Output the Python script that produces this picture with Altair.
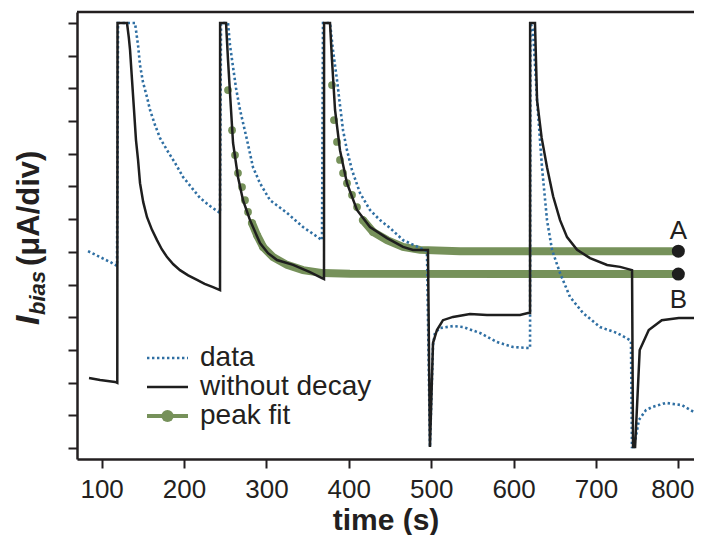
import altair as alt
import pandas as pd

# ---------------- data ----------------
# "data" series (blue dotted)
data_t = [83.5, 98.1, 110.2, 118.7, 119.9, 140.5, 144.2, 146.6, 150.2, 155.1, 158.7, 164.8,
          170.9, 179.4, 189.1, 198.8, 209.7, 219.4, 231.6, 243.7, 244.9, 253.4, 255.8, 258.3,
          263.1, 268.0, 276.5, 283.7, 292.2, 304.4, 325.0, 344.4, 367.5, 368.7, 377.2, 380.8,
          385.7, 389.3, 393.0, 397.8, 403.9, 413.6, 425.7, 437.9, 450.0, 465.8, 486.4, 494.9,
          498.5, 502.2, 504.6, 510.7, 526.5, 538.6, 559.2, 579.9, 599.3, 616.3, 620.0, 620.5,
          623.6, 628.5, 634.5, 640.6, 646.7, 656.4, 668.5, 684.3, 704.9, 725.5, 741.3, 742.5,
          743.7, 746.1, 752.2, 760.7, 768.0, 785.0, 804.4, 819.0]
data_v = [6.02, 5.84, 5.69, 5.57, 13.0, 13.0, 12.32, 11.71, 11.19, 10.73, 10.34, 9.88,
          9.48, 9.11, 8.72, 8.29, 7.95, 7.65, 7.40, 7.19, 13.0, 13.0, 12.32, 11.87,
          11.01, 10.34, 9.42, 8.59, 8.10, 7.58, 7.19, 6.76, 6.36, 13.0, 13.0, 12.17,
          11.25, 10.49, 9.72, 9.11, 8.50, 7.80, 7.28, 6.97, 6.73, 6.36, 6.12, 6.02,
          0.03, 3.15, 3.52, 3.67, 3.73, 3.70, 3.52, 3.24, 3.09, 3.06, 3.06, 13.0,
          12.78, 10.64, 8.59, 6.97, 6.06, 5.35, 4.62, 4.13, 3.70, 3.52, 3.30, 3.27,
          0.03, 0.03, 0.86, 1.16, 1.25, 1.38, 1.31, 1.10]

# "without decay" series (black solid)
nodecay_t = [84.7, 98.1, 116.3, 119.0, 119.3, 130.8, 133.0, 134.5, 136.9, 139.3, 141.7, 144.2,
             146.6, 150.5, 155.1, 161.0, 167.2, 173.0, 179.4, 187.0, 195.1, 205.0, 215.8, 225.0,
             235.2, 243.7, 243.8, 251.0, 253.4, 255.8, 259.5, 265.5, 271.6, 280.1, 292.2, 302.0,
             312.9, 332.3, 352.9, 367.5, 369.9, 370.0, 377.2, 379.6, 383.3, 389.3, 397.8, 409.9,
             425.7, 446.4, 465.8, 477.9, 494.9, 496.1, 498.5, 502.2, 507.0, 514.3, 526.5, 547.1,
             567.7, 587.1, 607.8, 617.5, 620.0, 620.1, 626.0, 628.5, 634.0, 640.6, 648.0, 656.4,
             664.9, 677.1, 692.8, 713.5, 729.3, 743.8, 745.0, 747.5, 753.1, 764.1, 779.9, 800.5,
             822.3]
nodecay_v = [2.14, 2.08, 2.02, 1.99, 13.0, 13.0, 12.55, 12.17, 11.25, 10.34, 9.42, 8.81,
             8.10, 7.52, 7.06, 6.68, 6.36, 6.08, 5.84, 5.62, 5.44, 5.28, 5.14, 5.02,
             4.92, 4.83, 13.0, 13.0, 11.87, 10.86, 9.33, 8.29, 7.58, 6.97, 6.27, 5.96,
             5.75, 5.60, 5.38, 5.20, 5.17, 13.0, 13.0, 11.87, 10.34, 9.11, 8.10, 7.28,
             6.76, 6.42, 6.15, 6.06, 6.06, 6.06, 0.03, 3.21, 3.61, 3.91, 4.01, 4.10,
             4.07, 4.07, 4.07, 4.13, 4.13, 13.0, 13.0, 10.64, 9.50, 8.59, 7.70, 6.97,
             6.45, 6.06, 5.81, 5.60, 5.54, 5.44, 0.03, 0.03, 3.00, 3.61, 3.91, 3.98,
             3.98]

# "peak fit" B (first fit): sampled fit points and flat tail
fitB_t = [253.4, 258.3, 261.9, 265.5, 270.4, 274.0, 277.7, 282.5, 288.6, 295.9, 308.0, 325.0,
          344.4, 368.7, 401.5, 800.0]
fitB_v = [10.95, 9.72, 8.96, 8.41, 7.98, 7.58, 7.22, 6.88, 6.51, 6.15, 5.84, 5.60,
          5.44, 5.35, 5.33, 5.32]
# "peak fit" A (second fit)
fitA_t = [379.6, 382.0, 385.7, 389.3, 393.0, 397.8, 403.9, 410.0, 417.2, 429.4, 446.4, 465.8,
          486.4, 535.0, 800.0]
fitA_v = [11.10, 10.03, 9.36, 8.81, 8.41, 8.10, 7.74, 7.37, 6.97, 6.61, 6.36, 6.15,
          6.06, 6.02, 6.02]

end_labels = ["A", "B"]
end_t = [800, 800]
end_v = [6.02, 5.32]

x_ticks = [100, 200, 300, 400, 500, 600, 700, 800]
y_ticks = list(range(14))
legend_labels = ["data", "without decay", "peak fit"]

# ---------------- styling ----------------
BLUE = "#2f6fa3"
GREEN = "#76915a"
BLACK = "#1e1e1e"
AX = "#231f20"
FONT = "Liberation Sans"
W, H = 617, 447

df_data = pd.DataFrame({"t": data_t, "v": data_v, "i": range(len(data_t))})
df_nd = pd.DataFrame({"t": nodecay_t, "v": nodecay_v, "i": range(len(nodecay_t))})
df_fit = pd.concat([
    pd.DataFrame({"t": fitB_t, "v": fitB_v, "fit": "B", "i": range(len(fitB_t))}),
    pd.DataFrame({"t": fitA_t, "v": fitA_v, "fit": "A", "i": range(len(fitA_t))}),
])
df_end = pd.DataFrame({"t": end_t, "v": end_v, "lab": end_labels})

xscale = alt.Scale(domain=[70.1, 819.0], nice=False, zero=False)
yscale = alt.Scale(domain=[-0.336, 13.336], nice=False, zero=False)

X = alt.X("t:Q", scale=xscale,
          axis=alt.Axis(values=x_ticks, title="time (s)", grid=False, labelFont=FONT,
                        labelFontSize=26, labelColor=AX, labelPadding=8, tickSize=9,
                        labelOffset={"condition": {"test": "datum.value == 800", "value": -6},
                                     "value": 0},
                        tickWidth=2, tickColor=AX, domainColor=AX, domainWidth=2.5,
                        titleFont=FONT, titleFontSize=30, titleFontWeight="bold",
                        titleColor=AX, titleY=70, titleBaseline="alphabetic"))
Y = alt.Y("v:Q", scale=yscale,
          axis=alt.Axis(values=y_ticks, labels=False, title=None, grid=False, tickSize=9,
                        tickWidth=2, tickColor=AX, domainColor=AX, domainWidth=2.5))

dotsB = alt.Chart(df_fit).transform_filter("datum.fit == 'B' && datum.t < 300").mark_circle(
    size=60, color=GREEN, opacity=1).encode(x=X, y=Y)
bandB = alt.Chart(df_fit).transform_filter("datum.fit == 'B' && datum.t > 280").mark_line(
    color=GREEN, strokeWidth=8, strokeCap="round", clip=True).encode(x=X, y=Y, order="i:Q")
dotsA = alt.Chart(df_fit).transform_filter("datum.fit == 'A' && datum.t < 430").mark_circle(
    size=60, color=GREEN, opacity=1).encode(x=X, y=Y)
bandA = alt.Chart(df_fit).transform_filter("datum.fit == 'A' && datum.t > 412").mark_line(
    color=GREEN, strokeWidth=8, strokeCap="round", clip=True).encode(x=X, y=Y, order="i:Q")

blue_line = alt.Chart(df_data).mark_line(
    color=BLUE, strokeWidth=2.6, strokeDash=[2.4, 2.6], clip=True).encode(x=X, y=Y, order="i:Q")
black_line = alt.Chart(df_nd).mark_line(
    color=BLACK, strokeWidth=2.5, clip=True).encode(x=X, y=Y, order="i:Q")

end_dots = alt.Chart(df_end).mark_circle(size=170, color=BLACK, opacity=1).encode(x=X, y=Y)
end_A = alt.Chart(df_end).transform_filter("datum.lab == 'A'").mark_text(
    font=FONT, fontSize=26, color=AX, baseline="alphabetic", dy=-12).encode(x=X, y=Y, text="lab:N")
end_B = alt.Chart(df_end).transform_filter("datum.lab == 'B'").mark_text(
    font=FONT, fontSize=26, color=AX, baseline="top", dy=13).encode(x=X, y=Y, text="lab:N")

one = pd.DataFrame({"a": [0]})
top_rule = alt.Chart(one).mark_rule(color=AX, strokeWidth=2.5).encode(
    x=alt.value(0), x2=alt.value(W), y=alt.value(0))

# legend
lg = pd.DataFrame({"lab": legend_labels})
leg_blue = alt.Chart(one).mark_rule(color=BLUE, strokeWidth=2.6, strokeDash=[2.4, 2.6]).encode(
    x=alt.value(70), x2=alt.value(111), y=alt.value(346))
leg_black = alt.Chart(one).mark_rule(color=BLACK, strokeWidth=2.5).encode(
    x=alt.value(70), x2=alt.value(111), y=alt.value(375))
leg_green = alt.Chart(one).mark_rule(color=GREEN, strokeWidth=4).encode(
    x=alt.value(70), x2=alt.value(111), y=alt.value(404))
leg_gdot = alt.Chart(one).mark_circle(color=GREEN, size=150, opacity=1).encode(
    x=alt.value(90.5), y=alt.value(404))
leg_texts = []
for k, yy in enumerate([346, 375, 404]):
    leg_texts.append(alt.Chart(lg).transform_filter(f"datum.lab == '{legend_labels[k]}'").mark_text(
        font=FONT, fontSize=28, color=AX, align="left", baseline="middle").encode(
        x=alt.value(123), y=alt.value(yy), text="lab:N"))

# y-axis title built from pieces: I_bias (μA/div)
ttl = pd.DataFrame({"s": ["I", "bias", "(μA/div)"]})
t_I = alt.Chart(ttl).transform_filter("datum.s == 'I'").mark_text(
    font=FONT, fontSize=34, fontWeight="bold", fontStyle="italic", color=AX, angle=270,
    align="left", baseline="alphabetic").encode(x=alt.value(-38), y=alt.value(313), text="s:N")
t_b = alt.Chart(ttl).transform_filter("datum.s == 'bias'").mark_text(
    font=FONT, fontSize=22, fontWeight="bold", fontStyle="italic", color=AX, angle=270,
    align="left", baseline="alphabetic").encode(x=alt.value(-32), y=alt.value(303), text="s:N")
t_u = alt.Chart(ttl).transform_filter("datum.s == '(μA/div)'").mark_text(
    font=FONT, fontSize=31, fontWeight="bold", color=AX, angle=270,
    align="left", baseline="alphabetic").encode(x=alt.value(-38), y=alt.value(254), text="s:N")

chart = alt.layer(
    bandB, bandA, dotsB, dotsA, blue_line, black_line, end_dots, end_A, end_B, top_rule,
    leg_blue, leg_black, leg_green, leg_gdot, *leg_texts, t_I, t_b, t_u
).properties(
    width=W, height=H,
    autosize=alt.AutoSizeParams(type="none"),
    padding={"left": 69, "top": 4, "right": 0, "bottom": 76},
).configure_view(stroke=None).configure(background="white")

chart.save("out.html", embed_options={"renderer": "svg", "actions": False})
